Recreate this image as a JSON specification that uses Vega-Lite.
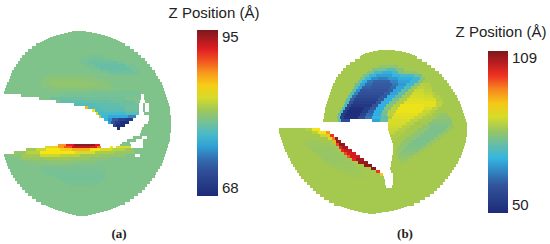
{"$schema":"https://vega.github.io/schema/vega-lite/v6.json","width":550,"height":244,"padding":0,"autosize":"none","background":"white","config":{"view":{"stroke":null}},
"datasets":{
"a":[
{"x":72,"x2":86,"y":31,"y2":32,"z":80.4},{"x":68,"x2":92,"y":32,"y2":33,"z":80.4},{"x":64,"x2":97,"y":33,"y2":34,"z":80.4},{"x":60,"x2":101,"y":34,"y2":35,"z":80.4},{"x":56,"x2":105,"y":35,"y2":36,"z":80.4},{"x":53,"x2":108,"y":36,"y2":37,"z":80.4},{"x":50,"x2":111,"y":37,"y2":38,"z":80.4},{"x":48,"x2":113,"y":38,"y2":39,"z":80.4},{"x":46,"x2":116,"y":39,"y2":40,"z":80.4},{"x":44,"x2":118,"y":40,"y2":41,"z":80.4},{"x":42,"x2":120,"y":41,"y2":42,"z":80.4},{"x":40,"x2":122,"y":42,"y2":43,"z":80.4},{"x":36,"x2":125,"y":43,"y2":46,"z":80.4},{"x":32,"x2":130,"y":46,"y2":49,"z":80.4},{"x":28,"x2":134,"y":49,"y2":52,"z":80.4},{"x":25,"x2":138,"y":52,"y2":55,"z":80.4},{"x":22,"x2":141,"y":55,"y2":58,"z":80.4},{"x":20,"x2":145,"y":58,"y2":61,"z":80.4},{"x":18,"x2":147,"y":61,"y2":64,"z":80.4},{"x":16,"x2":150,"y":64,"y2":67,"z":80.4},{"x":14,"x2":152,"y":67,"y2":70,"z":80.4},{"x":12,"x2":155,"y":70,"y2":73,"z":80.4},{"x":11,"x2":156,"y":73,"y2":76,"z":80.4},{"x":10,"x2":158,"y":76,"y2":79,"z":80.4},{"x":9,"x2":160,"y":79,"y2":82,"z":80.4},{"x":7,"x2":162,"y":82,"y2":85,"z":80.4},{"x":6,"x2":163,"y":85,"y2":88,"z":80.4},{"x":5,"x2":164,"y":88,"y2":91,"z":80.4},{"x":4,"x2":165,"y":91,"y2":94,"z":80.4},
{"x":21,"x2":141,"y":94,"y2":97,"z":80.4},{"x":144,"x2":166,"y":94,"y2":97,"z":80.4},{"x":39,"x2":141,"y":97,"y2":100,"z":80.4},{"x":144,"x2":167,"y":97,"y2":100,"z":80.4},{"x":56,"x2":140,"y":100,"y2":103,"z":80.4},{"x":145,"x2":168,"y":100,"y2":103,"z":80.4},{"x":74,"x2":139,"y":103,"y2":106,"z":80.4},{"x":143,"x2":145,"y":103,"y2":106,"z":80.4},{"x":149,"x2":169,"y":103,"y2":106,"z":80.4},{"x":85,"x2":139,"y":106,"y2":109,"z":80.4},{"x":143,"x2":145,"y":106,"y2":109,"z":80.4},{"x":149,"x2":170,"y":106,"y2":109,"z":80.4},{"x":92,"x2":139,"y":109,"y2":112,"z":80.4},{"x":143,"x2":145,"y":109,"y2":112,"z":80.4},{"x":149,"x2":170,"y":109,"y2":112,"z":80.4},{"x":96,"x2":139,"y":112,"y2":115,"z":80.4},{"x":144,"x2":170,"y":112,"y2":115,"z":80.4},{"x":99,"x2":136,"y":115,"y2":118,"z":80.4},{"x":149,"x2":171,"y":115,"y2":118,"z":80.4},{"x":104,"x2":133,"y":118,"y2":121,"z":80.4},{"x":149,"x2":171,"y":118,"y2":121,"z":80.4},{"x":108,"x2":129,"y":121,"y2":124,"z":80.4},{"x":148,"x2":171,"y":121,"y2":124,"z":80.4},{"x":113,"x2":125,"y":124,"y2":127,"z":80.4},{"x":144,"x2":171,"y":124,"y2":127,"z":80.4},{"x":117,"x2":120,"y":127,"y2":130,"z":80.4},{"x":142,"x2":171,"y":127,"y2":130,"z":80.4},{"x":141,"x2":171,"y":130,"y2":133,"z":80.4},{"x":140,"x2":170,"y":133,"y2":136,"z":80.4},{"x":133,"x2":142,"y":136,"y2":139,"z":80.4},{"x":147,"x2":170,"y":136,"y2":139,"z":80.4},{"x":127,"x2":136,"y":139,"y2":142,"z":80.4},{"x":143,"x2":170,"y":139,"y2":142,"z":80.4},{"x":122,"x2":130,"y":142,"y2":144,"z":80.4},{"x":143,"x2":169,"y":142,"y2":144,"z":80.4},{"x":58,"x2":100,"y":144,"y2":146,"z":80.4},{"x":120,"x2":131,"y":144,"y2":146,"z":80.4},{"x":143,"x2":168,"y":144,"y2":146,"z":80.4},{"x":45,"x2":101,"y":146,"y2":148,"z":80.4},{"x":110,"x2":113,"y":146,"y2":148,"z":80.4},{"x":116,"x2":131,"y":146,"y2":148,"z":80.4},{"x":143,"x2":168,"y":146,"y2":148,"z":80.4},{"x":26,"x2":167,"y":148,"y2":151,"z":80.4},{"x":14,"x2":166,"y":151,"y2":154,"z":80.4},{"x":4,"x2":135,"y":154,"y2":157,"z":80.4},{"x":140,"x2":165,"y":154,"y2":157,"z":80.4},{"x":5,"x2":164,"y":157,"y2":160,"z":80.4},{"x":6,"x2":163,"y":160,"y2":163,"z":80.4},{"x":7,"x2":162,"y":163,"y2":166,"z":80.4},{"x":8,"x2":160,"y":166,"y2":169,"z":80.4},{"x":10,"x2":158,"y":169,"y2":172,"z":80.4},{"x":11,"x2":156,"y":172,"y2":175,"z":80.4},{"x":13,"x2":155,"y":175,"y2":178,"z":80.4},{"x":15,"x2":152,"y":178,"y2":181,"z":80.4},{"x":17,"x2":150,"y":181,"y2":184,"z":80.4},{"x":20,"x2":147,"y":184,"y2":187,"z":80.4},{"x":22,"x2":145,"y":187,"y2":190,"z":80.4},{"x":25,"x2":142,"y":190,"y2":193,"z":80.4},{"x":28,"x2":138,"y":193,"y2":196,"z":80.4},{"x":32,"x2":134,"y":196,"y2":199,"z":80.4},{"x":36,"x2":130,"y":199,"y2":202,"z":80.4},{"x":41,"x2":125,"y":202,"y2":205,"z":80.4},{"x":46,"x2":120,"y":205,"y2":206,"z":80.4},{"x":48,"x2":118,"y":206,"y2":207,"z":80.4},{"x":50,"x2":116,"y":207,"y2":208,"z":80.4},{"x":53,"x2":113,"y":208,"y2":209,"z":80.4},{"x":55,"x2":111,"y":209,"y2":210,"z":80.4},{"x":58,"x2":108,"y":210,"y2":211,"z":80.4},{"x":62,"x2":104,"y":211,"y2":212,"z":80.4},{"x":65,"x2":100,"y":212,"y2":213,"z":80.4},{"x":68,"x2":96,"y":213,"y2":214,"z":80.4},{"x":72,"x2":92,"y":214,"y2":215,"z":80.4},{"x":76,"x2":88,"y":215,"y2":216,"z":80.4},
{"x":85,"x2":105,"y":55,"y2":58,"z":80.1},{"x":80,"x2":115,"y":58,"y2":61,"z":80.1},{"x":90,"x2":105,"y":58,"y2":61,"z":79.8},{"x":80,"x2":125,"y":61,"y2":64,"z":80},{"x":88,"x2":118,"y":61,"y2":64,"z":79.6},{"x":85,"x2":135,"y":64,"y2":67,"z":80},{"x":95,"x2":125,"y":64,"y2":67,"z":79.4},{"x":90,"x2":140,"y":67,"y2":70,"z":80},{"x":100,"x2":130,"y":67,"y2":70,"z":79.4},{"x":100,"x2":140,"y":70,"y2":73,"z":80},{"x":107,"x2":133,"y":70,"y2":73,"z":79.6},{"x":110,"x2":140,"y":73,"y2":76,"z":80.1},
{"x":50,"x2":85,"y":73,"y2":76,"z":80.7},{"x":45,"x2":95,"y":76,"y2":79,"z":80.9},{"x":42,"x2":105,"y":79,"y2":82,"z":80.9},{"x":50,"x2":85,"y":79,"y2":82,"z":81.2},{"x":40,"x2":110,"y":82,"y2":85,"z":80.9},{"x":50,"x2":95,"y":82,"y2":85,"z":81.3},{"x":42,"x2":112,"y":85,"y2":88,"z":80.9},{"x":55,"x2":100,"y":85,"y2":88,"z":81.2},{"x":48,"x2":115,"y":88,"y2":91,"z":80.7},
{"x":90,"x2":140,"y":91,"y2":94,"z":80},{"x":60,"x2":140,"y":94,"y2":97,"z":80},{"x":50,"x2":85,"y":97,"y2":100,"z":79.7},{"x":85,"x2":125,"y":97,"y2":100,"z":79.8},{"x":60,"x2":85,"y":100,"y2":103,"z":79.1},{"x":85,"x2":110,"y":100,"y2":103,"z":79.3},{"x":110,"x2":135,"y":100,"y2":103,"z":79.7},{"x":74,"x2":95,"y":103,"y2":106,"z":78.6},{"x":95,"x2":120,"y":103,"y2":106,"z":79},{"x":120,"x2":139,"y":103,"y2":106,"z":79.6},
{"x":85,"x2":88,"y":106,"y2":109,"z":87},{"x":88,"x2":100,"y":106,"y2":109,"z":78.6},{"x":100,"x2":125,"y":106,"y2":109,"z":79},{"x":125,"x2":139,"y":106,"y2":109,"z":79.8},{"x":92,"x2":95,"y":109,"y2":112,"z":85},{"x":95,"x2":105,"y":109,"y2":112,"z":78.5},{"x":105,"x2":125,"y":109,"y2":112,"z":78.8},{"x":125,"x2":139,"y":109,"y2":112,"z":79.5},{"x":96,"x2":98,"y":112,"y2":115,"z":84},{"x":98,"x2":108,"y":112,"y2":115,"z":78},{"x":108,"x2":125,"y":112,"y2":115,"z":78},{"x":125,"x2":139,"y":112,"y2":115,"z":78.8},{"x":99,"x2":101,"y":115,"y2":118,"z":83},{"x":101,"x2":108,"y":115,"y2":118,"z":77.5},{"x":108,"x2":118,"y":115,"y2":118,"z":76.5},{"x":118,"x2":128,"y":115,"y2":118,"z":76.5},{"x":128,"x2":136,"y":115,"y2":118,"z":75},
{"x":104,"x2":108,"y":118,"y2":121,"z":77},{"x":108,"x2":112,"y":118,"y2":121,"z":75.5},{"x":112,"x2":118,"y":118,"y2":121,"z":73},{"x":118,"x2":126,"y":118,"y2":121,"z":71},{"x":126,"x2":133,"y":118,"y2":121,"z":70},{"x":108,"x2":111,"y":121,"y2":124,"z":76},{"x":111,"x2":115,"y":121,"y2":124,"z":72.5},{"x":115,"x2":120,"y":121,"y2":124,"z":70},{"x":120,"x2":129,"y":121,"y2":124,"z":68.5},{"x":113,"x2":116,"y":124,"y2":127,"z":71},{"x":116,"x2":125,"y":124,"y2":127,"z":68.5},{"x":117,"x2":120,"y":127,"y2":130,"z":68.5},
{"x":58,"x2":66,"y":144,"y2":146,"z":88},{"x":66,"x2":74,"y":144,"y2":146,"z":91.5},{"x":74,"x2":95,"y":144,"y2":146,"z":94.3},{"x":95,"x2":100,"y":144,"y2":146,"z":92},{"x":45,"x2":52,"y":146,"y2":148,"z":84},{"x":52,"x2":58,"y":146,"y2":148,"z":86},{"x":58,"x2":64,"y":146,"y2":148,"z":88},{"x":64,"x2":72,"y":146,"y2":148,"z":90},{"x":72,"x2":90,"y":146,"y2":148,"z":93},{"x":90,"x2":97,"y":146,"y2":148,"z":92},{"x":97,"x2":101,"y":146,"y2":148,"z":89},{"x":110,"x2":113,"y":146,"y2":148,"z":85},{"x":116,"x2":131,"y":146,"y2":148,"z":84},
{"x":26,"x2":36,"y":148,"y2":151,"z":82},{"x":36,"x2":46,"y":148,"y2":151,"z":83.5},{"x":46,"x2":60,"y":148,"y2":151,"z":85},{"x":60,"x2":72,"y":148,"y2":151,"z":86},{"x":72,"x2":90,"y":148,"y2":151,"z":87},{"x":90,"x2":100,"y":148,"y2":151,"z":85},{"x":100,"x2":112,"y":148,"y2":151,"z":84},{"x":112,"x2":125,"y":148,"y2":151,"z":83},{"x":125,"x2":133,"y":148,"y2":151,"z":82},{"x":14,"x2":26,"y":151,"y2":154,"z":81.5},{"x":26,"x2":40,"y":151,"y2":154,"z":83},{"x":40,"x2":60,"y":151,"y2":154,"z":85},{"x":60,"x2":75,"y":151,"y2":154,"z":85},{"x":75,"x2":95,"y":151,"y2":154,"z":84},{"x":95,"x2":115,"y":151,"y2":154,"z":82.5},{"x":115,"x2":135,"y":151,"y2":154,"z":81.5},{"x":8,"x2":22,"y":154,"y2":157,"z":81},{"x":22,"x2":40,"y":154,"y2":157,"z":82.3},{"x":40,"x2":60,"y":154,"y2":157,"z":83.6},{"x":60,"x2":80,"y":154,"y2":157,"z":83},{"x":80,"x2":100,"y":154,"y2":157,"z":82},{"x":100,"x2":125,"y":154,"y2":157,"z":81.3},{"x":20,"x2":45,"y":157,"y2":160,"z":81.5},{"x":45,"x2":70,"y":157,"y2":160,"z":82},{"x":70,"x2":90,"y":157,"y2":160,"z":81.5},{"x":90,"x2":110,"y":157,"y2":160,"z":81},{"x":25,"x2":50,"y":160,"y2":163,"z":81},{"x":50,"x2":75,"y":160,"y2":163,"z":81.2},{"x":75,"x2":95,"y":160,"y2":163,"z":81},{"x":35,"x2":70,"y":163,"y2":166,"z":80.8},
{"x":40,"x2":100,"y":166,"y2":169,"z":80.2},{"x":40,"x2":105,"y":169,"y2":172,"z":80.1},{"x":45,"x2":105,"y":172,"y2":175,"z":80},{"x":55,"x2":105,"y":175,"y2":178,"z":79.9},{"x":60,"x2":105,"y":178,"y2":181,"z":80},{"x":65,"x2":100,"y":181,"y2":184,"z":80.1},{"x":70,"x2":95,"y":184,"y2":187,"z":80.2}
],
"b":[
{"x":378,"x2":395,"y":50,"y2":51,"z":81.3},{"x":373,"x2":402,"y":51,"y2":52,"z":81.3},{"x":369,"x2":406,"y":52,"y2":53,"z":81.3},{"x":365,"x2":410,"y":53,"y2":54,"z":81.3},{"x":363,"x2":412,"y":54,"y2":55,"z":81.3},{"x":361,"x2":415,"y":55,"y2":56,"z":81.3},{"x":360,"x2":417,"y":56,"y2":59,"z":81.3},{"x":355,"x2":422,"y":59,"y2":62,"z":81.3},{"x":350,"x2":427,"y":62,"y2":65,"z":81.3},{"x":346,"x2":431,"y":65,"y2":68,"z":81.3},{"x":343,"x2":435,"y":68,"y2":71,"z":81.3},{"x":341,"x2":439,"y":71,"y2":74,"z":81.3},{"x":338,"x2":442,"y":74,"y2":77,"z":81.3},{"x":336,"x2":444,"y":77,"y2":80,"z":81.3},{"x":335,"x2":447,"y":80,"y2":83,"z":81.3},{"x":333,"x2":449,"y":83,"y2":86,"z":81.3},{"x":332,"x2":451,"y":86,"y2":89,"z":81.3},{"x":331,"x2":453,"y":89,"y2":92,"z":81.3},{"x":330,"x2":455,"y":92,"y2":95,"z":81.3},{"x":329,"x2":457,"y":95,"y2":98,"z":81.3},{"x":328,"x2":458,"y":98,"y2":101,"z":81.3},{"x":327,"x2":460,"y":101,"y2":104,"z":81.3},{"x":326,"x2":461,"y":104,"y2":107,"z":81.3},{"x":325,"x2":462,"y":107,"y2":110,"z":81.3},{"x":325,"x2":463,"y":110,"y2":113,"z":81.3},{"x":324,"x2":464,"y":113,"y2":116,"z":81.3},{"x":324,"x2":465,"y":116,"y2":119,"z":81.3},{"x":323,"x2":350,"y":119,"y2":122,"z":81.3},{"x":372,"x2":466,"y":119,"y2":122,"z":81.3},{"x":388,"x2":467,"y":122,"y2":125,"z":81.3},{"x":388,"x2":467,"y":125,"y2":128,"z":81.3},{"x":279,"x2":320,"y":128,"y2":131,"z":81.3},{"x":388,"x2":467,"y":128,"y2":131,"z":81.3},{"x":279,"x2":330,"y":131,"y2":134,"z":81.3},{"x":389,"x2":467,"y":131,"y2":134,"z":81.3},{"x":280,"x2":334,"y":134,"y2":137,"z":81.3},{"x":390,"x2":467,"y":134,"y2":137,"z":81.3},{"x":281,"x2":338,"y":137,"y2":140,"z":81.3},{"x":391,"x2":466,"y":137,"y2":140,"z":81.3},{"x":282,"x2":341,"y":140,"y2":143,"z":81.3},{"x":392,"x2":466,"y":140,"y2":143,"z":81.3},{"x":283,"x2":345,"y":143,"y2":146,"z":81.3},{"x":393,"x2":465,"y":143,"y2":146,"z":81.3},{"x":284,"x2":348,"y":146,"y2":149,"z":81.3},{"x":393,"x2":464,"y":146,"y2":149,"z":81.3},{"x":285,"x2":352,"y":149,"y2":152,"z":81.3},{"x":393,"x2":463,"y":149,"y2":152,"z":81.3},{"x":287,"x2":356,"y":152,"y2":155,"z":81.3},{"x":393,"x2":462,"y":152,"y2":155,"z":81.3},{"x":288,"x2":360,"y":155,"y2":158,"z":81.3},{"x":392,"x2":461,"y":155,"y2":158,"z":81.3},{"x":290,"x2":364,"y":158,"y2":161,"z":81.3},{"x":392,"x2":459,"y":158,"y2":161,"z":81.3},{"x":291,"x2":368,"y":161,"y2":164,"z":81.3},{"x":391,"x2":458,"y":161,"y2":164,"z":81.3},{"x":293,"x2":372,"y":164,"y2":167,"z":81.3},{"x":391,"x2":456,"y":164,"y2":167,"z":81.3},{"x":295,"x2":376,"y":167,"y2":170,"z":81.3},{"x":390,"x2":454,"y":167,"y2":170,"z":81.3},{"x":297,"x2":380,"y":170,"y2":173,"z":81.3},{"x":391,"x2":452,"y":170,"y2":173,"z":81.3},{"x":299,"x2":383,"y":173,"y2":176,"z":81.3},{"x":393,"x2":450,"y":173,"y2":176,"z":81.3},{"x":301,"x2":384,"y":176,"y2":179,"z":81.3},{"x":393,"x2":448,"y":176,"y2":179,"z":81.3},{"x":304,"x2":385,"y":179,"y2":182,"z":81.3},{"x":393,"x2":445,"y":179,"y2":182,"z":81.3},{"x":307,"x2":385,"y":182,"y2":185,"z":81.3},{"x":393,"x2":443,"y":182,"y2":185,"z":81.3},{"x":310,"x2":386,"y":185,"y2":188,"z":81.3},{"x":392,"x2":440,"y":185,"y2":188,"z":81.3},{"x":313,"x2":437,"y":188,"y2":191,"z":81.3},{"x":316,"x2":434,"y":191,"y2":194,"z":81.3},{"x":320,"x2":430,"y":194,"y2":197,"z":81.3},{"x":324,"x2":425,"y":197,"y2":200,"z":81.3},{"x":329,"x2":420,"y":200,"y2":203,"z":81.3},{"x":334,"x2":414,"y":203,"y2":206,"z":81.3},{"x":341,"x2":407,"y":206,"y2":207,"z":81.3},{"x":344,"x2":404,"y":207,"y2":208,"z":81.3},{"x":347,"x2":401,"y":208,"y2":209,"z":81.3},{"x":350,"x2":398,"y":209,"y2":210,"z":81.3},{"x":354,"x2":394,"y":210,"y2":211,"z":81.3},{"x":358,"x2":389,"y":211,"y2":212,"z":81.3},{"x":362,"x2":382,"y":212,"y2":213,"z":81.3},{"x":368,"x2":376,"y":213,"y2":214,"z":81.3},
{"x":378,"x2":398,"y":65,"y2":68,"z":79},{"x":372,"x2":386,"y":68,"y2":71,"z":77},{"x":386,"x2":396,"y":68,"y2":71,"z":74},{"x":396,"x2":404,"y":68,"y2":71,"z":78},{"x":367,"x2":374,"y":71,"y2":74,"z":77},{"x":374,"x2":382,"y":71,"y2":74,"z":72},{"x":382,"x2":392,"y":71,"y2":74,"z":69},{"x":392,"x2":398,"y":71,"y2":74,"z":72},{"x":398,"x2":404,"y":71,"y2":74,"z":78},{"x":404,"x2":418,"y":71,"y2":74,"z":79},
{"x":363,"x2":369,"y":74,"y2":77,"z":76},{"x":369,"x2":376,"y":74,"y2":77,"z":70},{"x":376,"x2":392,"y":74,"y2":77,"z":67.5},{"x":392,"x2":400,"y":74,"y2":77,"z":70},{"x":400,"x2":414,"y":74,"y2":77,"z":72},{"x":414,"x2":422,"y":74,"y2":77,"z":76},
{"x":360,"x2":365,"y":77,"y2":80,"z":77},{"x":365,"x2":371,"y":77,"y2":80,"z":70},{"x":371,"x2":378,"y":77,"y2":80,"z":66},{"x":378,"x2":388,"y":77,"y2":80,"z":64.5},{"x":388,"x2":398,"y":77,"y2":80,"z":67},{"x":398,"x2":412,"y":77,"y2":80,"z":69},{"x":412,"x2":420,"y":77,"y2":80,"z":71},{"x":420,"x2":425,"y":77,"y2":80,"z":78},
{"x":358,"x2":362,"y":80,"y2":83,"z":76},{"x":362,"x2":367,"y":80,"y2":83,"z":69},{"x":367,"x2":373,"y":80,"y2":83,"z":64},{"x":373,"x2":390,"y":80,"y2":83,"z":62},{"x":390,"x2":398,"y":80,"y2":83,"z":65},{"x":398,"x2":410,"y":80,"y2":83,"z":68},{"x":410,"x2":418,"y":80,"y2":83,"z":71},{"x":418,"x2":423,"y":80,"y2":83,"z":78},
{"x":355,"x2":360,"y":83,"y2":86,"z":75},{"x":360,"x2":365,"y":83,"y2":86,"z":68},{"x":365,"x2":372,"y":83,"y2":86,"z":63},{"x":372,"x2":392,"y":83,"y2":86,"z":61.5},{"x":392,"x2":398,"y":83,"y2":86,"z":64},{"x":398,"x2":406,"y":83,"y2":86,"z":67},{"x":406,"x2":414,"y":83,"y2":86,"z":71},{"x":414,"x2":420,"y":83,"y2":86,"z":79},{"x":420,"x2":430,"y":83,"y2":86,"z":82.5},
{"x":354,"x2":358,"y":86,"y2":89,"z":75},{"x":358,"x2":362,"y":86,"y2":89,"z":68},{"x":362,"x2":370,"y":86,"y2":89,"z":62},{"x":370,"x2":390,"y":86,"y2":89,"z":61},{"x":390,"x2":396,"y":86,"y2":89,"z":63},{"x":396,"x2":404,"y":86,"y2":89,"z":68},{"x":404,"x2":411,"y":86,"y2":89,"z":73},{"x":411,"x2":417,"y":86,"y2":89,"z":80},{"x":417,"x2":426,"y":86,"y2":89,"z":83},{"x":426,"x2":432,"y":86,"y2":89,"z":82.3},
{"x":352,"x2":356,"y":89,"y2":92,"z":74},{"x":356,"x2":360,"y":89,"y2":92,"z":66},{"x":360,"x2":368,"y":89,"y2":92,"z":60},{"x":368,"x2":388,"y":89,"y2":92,"z":60},{"x":388,"x2":393,"y":89,"y2":92,"z":62},{"x":393,"x2":401,"y":89,"y2":92,"z":68},{"x":401,"x2":408,"y":89,"y2":92,"z":74},{"x":408,"x2":414,"y":89,"y2":92,"z":80.5},{"x":414,"x2":424,"y":89,"y2":92,"z":84},{"x":424,"x2":432,"y":89,"y2":92,"z":83},
{"x":350,"x2":354,"y":92,"y2":95,"z":74},{"x":354,"x2":358,"y":92,"y2":95,"z":65},{"x":358,"x2":384,"y":92,"y2":95,"z":59},{"x":384,"x2":390,"y":92,"y2":95,"z":62},{"x":390,"x2":398,"y":92,"y2":95,"z":68},{"x":398,"x2":405,"y":92,"y2":95,"z":75},{"x":405,"x2":412,"y":92,"y2":95,"z":81},{"x":412,"x2":424,"y":92,"y2":95,"z":84.5},{"x":424,"x2":432,"y":92,"y2":95,"z":83.5},{"x":432,"x2":436,"y":92,"y2":95,"z":82.5},
{"x":348,"x2":352,"y":95,"y2":98,"z":74},{"x":352,"x2":356,"y":95,"y2":98,"z":63},{"x":356,"x2":380,"y":95,"y2":98,"z":58},{"x":380,"x2":387,"y":95,"y2":98,"z":61},{"x":387,"x2":395,"y":95,"y2":98,"z":69},{"x":395,"x2":402,"y":95,"y2":98,"z":75},{"x":402,"x2":410,"y":95,"y2":98,"z":81.5},{"x":410,"x2":424,"y":95,"y2":98,"z":85},{"x":424,"x2":433,"y":95,"y2":98,"z":84.5},{"x":433,"x2":440,"y":95,"y2":98,"z":82.5},
{"x":346,"x2":350,"y":98,"y2":101,"z":74},{"x":350,"x2":354,"y":98,"y2":101,"z":62},{"x":354,"x2":378,"y":98,"y2":101,"z":56.5},{"x":378,"x2":384,"y":98,"y2":101,"z":61},{"x":384,"x2":392,"y":98,"y2":101,"z":69},{"x":392,"x2":399,"y":98,"y2":101,"z":76},{"x":399,"x2":407,"y":98,"y2":101,"z":82},{"x":407,"x2":424,"y":98,"y2":101,"z":85.5},{"x":424,"x2":436,"y":98,"y2":101,"z":85},{"x":436,"x2":442,"y":98,"y2":101,"z":82.5},
{"x":345,"x2":349,"y":101,"y2":104,"z":73},{"x":349,"x2":353,"y":101,"y2":104,"z":60},{"x":353,"x2":376,"y":101,"y2":104,"z":55},{"x":376,"x2":381,"y":101,"y2":104,"z":61},{"x":381,"x2":389,"y":101,"y2":104,"z":69},{"x":389,"x2":396,"y":101,"y2":104,"z":77},{"x":396,"x2":404,"y":101,"y2":104,"z":82},{"x":404,"x2":424,"y":101,"y2":104,"z":86},{"x":424,"x2":436,"y":101,"y2":104,"z":86},{"x":436,"x2":443,"y":101,"y2":104,"z":83},
{"x":344,"x2":347,"y":104,"y2":107,"z":73},{"x":347,"x2":351,"y":104,"y2":107,"z":58},{"x":351,"x2":372,"y":104,"y2":107,"z":53.5},{"x":372,"x2":378,"y":104,"y2":107,"z":60},{"x":378,"x2":386,"y":104,"y2":107,"z":69},{"x":386,"x2":393,"y":104,"y2":107,"z":78},{"x":393,"x2":400,"y":104,"y2":107,"z":82.5},{"x":400,"x2":424,"y":104,"y2":107,"z":86.5},{"x":424,"x2":436,"y":104,"y2":107,"z":86},{"x":436,"x2":442,"y":104,"y2":107,"z":83},
{"x":342,"x2":345,"y":107,"y2":110,"z":72},{"x":345,"x2":349,"y":107,"y2":110,"z":56},{"x":349,"x2":364,"y":107,"y2":110,"z":51.5},{"x":364,"x2":370,"y":107,"y2":110,"z":55},{"x":370,"x2":376,"y":107,"y2":110,"z":61},{"x":376,"x2":384,"y":107,"y2":110,"z":69},{"x":384,"x2":391,"y":107,"y2":110,"z":78},{"x":391,"x2":398,"y":107,"y2":110,"z":83},{"x":398,"x2":424,"y":107,"y2":110,"z":86.5},{"x":424,"x2":432,"y":107,"y2":110,"z":85},{"x":432,"x2":438,"y":107,"y2":110,"z":83},
{"x":340,"x2":343,"y":110,"y2":113,"z":73},{"x":343,"x2":347,"y":110,"y2":113,"z":55},{"x":347,"x2":362,"y":110,"y2":113,"z":51},{"x":362,"x2":368,"y":110,"y2":113,"z":55},{"x":368,"x2":374,"y":110,"y2":113,"z":62},{"x":374,"x2":382,"y":110,"y2":113,"z":69},{"x":382,"x2":388,"y":110,"y2":113,"z":76},{"x":388,"x2":396,"y":110,"y2":113,"z":83},{"x":396,"x2":422,"y":110,"y2":113,"z":86.5},{"x":422,"x2":430,"y":110,"y2":113,"z":84},{"x":430,"x2":435,"y":110,"y2":113,"z":82.5},
{"x":338,"x2":341,"y":113,"y2":116,"z":74},{"x":341,"x2":345,"y":113,"y2":116,"z":55},{"x":345,"x2":360,"y":113,"y2":116,"z":51},{"x":360,"x2":366,"y":113,"y2":116,"z":56},{"x":366,"x2":373,"y":113,"y2":116,"z":63},{"x":373,"x2":381,"y":113,"y2":116,"z":69},{"x":381,"x2":387,"y":113,"y2":116,"z":76},{"x":387,"x2":394,"y":113,"y2":116,"z":83},{"x":394,"x2":418,"y":113,"y2":116,"z":86},{"x":418,"x2":426,"y":113,"y2":116,"z":84},{"x":426,"x2":432,"y":113,"y2":116,"z":82.5},{"x":438,"x2":448,"y":113,"y2":116,"z":79.5},
{"x":337,"x2":340,"y":116,"y2":119,"z":76},{"x":340,"x2":344,"y":116,"y2":119,"z":56},{"x":344,"x2":358,"y":116,"y2":119,"z":51.5},{"x":358,"x2":365,"y":116,"y2":119,"z":58},{"x":365,"x2":372,"y":116,"y2":119,"z":64},{"x":372,"x2":381,"y":116,"y2":119,"z":70},{"x":381,"x2":388,"y":116,"y2":119,"z":75},{"x":388,"x2":392,"y":116,"y2":119,"z":82},{"x":392,"x2":414,"y":116,"y2":119,"z":85.5},{"x":414,"x2":422,"y":116,"y2":119,"z":83.5},{"x":422,"x2":428,"y":116,"y2":119,"z":82},{"x":436,"x2":450,"y":116,"y2":119,"z":79},
{"x":338,"x2":341,"y":119,"y2":122,"z":74},{"x":341,"x2":350,"y":119,"y2":122,"z":58},{"x":372,"x2":380,"y":119,"y2":122,"z":68},{"x":380,"x2":388,"y":119,"y2":122,"z":75},{"x":388,"x2":410,"y":119,"y2":122,"z":85},{"x":410,"x2":418,"y":119,"y2":122,"z":83},{"x":418,"x2":426,"y":119,"y2":122,"z":81.5},{"x":432,"x2":452,"y":119,"y2":122,"z":78.5},
{"x":388,"x2":406,"y":122,"y2":125,"z":85},{"x":406,"x2":414,"y":122,"y2":125,"z":83},{"x":414,"x2":422,"y":122,"y2":125,"z":81},{"x":428,"x2":452,"y":122,"y2":125,"z":78},{"x":388,"x2":402,"y":125,"y2":128,"z":84.5},{"x":402,"x2":410,"y":125,"y2":128,"z":82.5},{"x":422,"x2":430,"y":125,"y2":128,"z":79},{"x":430,"x2":448,"y":125,"y2":128,"z":77},{"x":448,"x2":454,"y":125,"y2":128,"z":79.5},{"x":388,"x2":398,"y":128,"y2":131,"z":84},{"x":398,"x2":406,"y":128,"y2":131,"z":82.5},{"x":418,"x2":428,"y":128,"y2":131,"z":79},{"x":428,"x2":446,"y":128,"y2":131,"z":77},{"x":446,"x2":452,"y":128,"y2":131,"z":79.5},{"x":389,"x2":395,"y":131,"y2":134,"z":83.5},{"x":395,"x2":404,"y":131,"y2":134,"z":82},{"x":414,"x2":424,"y":131,"y2":134,"z":79},{"x":424,"x2":442,"y":131,"y2":134,"z":77},{"x":442,"x2":448,"y":131,"y2":134,"z":79.5},{"x":390,"x2":400,"y":134,"y2":137,"z":82},{"x":410,"x2":420,"y":134,"y2":137,"z":79},{"x":420,"x2":438,"y":134,"y2":137,"z":77},{"x":438,"x2":444,"y":134,"y2":137,"z":79.5},{"x":391,"x2":398,"y":137,"y2":140,"z":81.8},{"x":405,"x2":416,"y":137,"y2":140,"z":79},{"x":416,"x2":434,"y":137,"y2":140,"z":77},{"x":434,"x2":440,"y":137,"y2":140,"z":79.5},{"x":402,"x2":412,"y":140,"y2":143,"z":79},{"x":412,"x2":430,"y":140,"y2":143,"z":77},{"x":430,"x2":436,"y":140,"y2":143,"z":79.5},{"x":400,"x2":408,"y":143,"y2":146,"z":79},{"x":408,"x2":426,"y":143,"y2":146,"z":77},{"x":426,"x2":432,"y":143,"y2":146,"z":79.5},{"x":398,"x2":405,"y":146,"y2":149,"z":79},{"x":405,"x2":422,"y":146,"y2":149,"z":77.5},{"x":422,"x2":428,"y":146,"y2":149,"z":79.5},{"x":396,"x2":402,"y":149,"y2":152,"z":79.5},{"x":402,"x2":419,"y":149,"y2":152,"z":78},{"x":419,"x2":424,"y":149,"y2":152,"z":80},{"x":396,"x2":400,"y":152,"y2":155,"z":80},{"x":400,"x2":415,"y":152,"y2":155,"z":78.5},{"x":415,"x2":420,"y":152,"y2":155,"z":80},{"x":398,"x2":412,"y":155,"y2":158,"z":79},{"x":398,"x2":408,"y":158,"y2":161,"z":79.7},{"x":400,"x2":406,"y":161,"y2":164,"z":80.3},
{"x":305,"x2":320,"y":140,"y2":143,"z":80.5},{"x":305,"x2":330,"y":143,"y2":146,"z":80.2},{"x":308,"x2":335,"y":146,"y2":149,"z":80},{"x":312,"x2":338,"y":149,"y2":152,"z":79.9},{"x":316,"x2":340,"y":152,"y2":155,"z":79.8},{"x":320,"x2":345,"y":155,"y2":158,"z":79.8},{"x":322,"x2":348,"y":158,"y2":161,"z":79.9},{"x":326,"x2":352,"y":161,"y2":164,"z":80},{"x":330,"x2":355,"y":164,"y2":167,"z":80.2},{"x":335,"x2":358,"y":167,"y2":170,"z":80.4},{"x":340,"x2":362,"y":170,"y2":173,"z":80.6},{"x":345,"x2":365,"y":173,"y2":176,"z":80.8},{"x":350,"x2":368,"y":176,"y2":179,"z":81},
{"x":305,"x2":312,"y":128,"y2":131,"z":82.5},{"x":312,"x2":320,"y":128,"y2":131,"z":87},{"x":312,"x2":318,"y":131,"y2":134,"z":83},{"x":318,"x2":326,"y":131,"y2":134,"z":87.5},{"x":326,"x2":330,"y":131,"y2":134,"z":94},{"x":320,"x2":326,"y":134,"y2":137,"z":84},{"x":326,"x2":330,"y":134,"y2":137,"z":90},{"x":330,"x2":334,"y":134,"y2":137,"z":100},{"x":328,"x2":332,"y":137,"y2":140,"z":85},{"x":332,"x2":335,"y":137,"y2":140,"z":96},{"x":335,"x2":338,"y":137,"y2":140,"z":106},{"x":333,"x2":336,"y":140,"y2":143,"z":92},{"x":336,"x2":341,"y":140,"y2":143,"z":107},{"x":336,"x2":339,"y":143,"y2":146,"z":99},{"x":339,"x2":345,"y":143,"y2":146,"z":108},{"x":339,"x2":342,"y":146,"y2":149,"z":101},{"x":342,"x2":348,"y":146,"y2":149,"z":106},{"x":341,"x2":344,"y":149,"y2":152,"z":101},{"x":344,"x2":352,"y":149,"y2":152,"z":104},{"x":344,"x2":347,"y":152,"y2":155,"z":99},{"x":347,"x2":356,"y":152,"y2":155,"z":103},{"x":347,"x2":350,"y":155,"y2":158,"z":98},{"x":350,"x2":360,"y":155,"y2":158,"z":103},{"x":352,"x2":356,"y":158,"y2":161,"z":101},{"x":356,"x2":364,"y":158,"y2":161,"z":106},{"x":358,"x2":368,"y":161,"y2":164,"z":107},{"x":364,"x2":372,"y":164,"y2":167,"z":108},{"x":371,"x2":376,"y":167,"y2":170,"z":108},{"x":376,"x2":380,"y":170,"y2":173,"z":100},{"x":380,"x2":383,"y":173,"y2":176,"z":90}
],
"titles":[{"x":214,"y":13,"label":"Z Position (Å)"},{"x":501,"y":32,"label":"Z Position (Å)"}],
"captions":[{"x":119,"y":234,"label":"(a)"},{"x":405,"y":234,"label":"(b)"}]
},
"layer":[
{"data":{"name":"a"},"mark":{"type":"rect"},"encoding":{
"x":{"field":"x","type":"quantitative","axis":null,"scale":{"domain":[0,550],"nice":false,"zero":false}},"x2":{"field":"x2"},
"y":{"field":"y","type":"quantitative","axis":null,"scale":{"domain":[244,0],"nice":false,"zero":false}},"y2":{"field":"y2"},
"color":{"field":"z","type":"quantitative","scale":{"interpolate":"rgb","domain":[68,73.1,76.9,80.4,82.3,85,88.25,91.5,95],"range":["#1D2A78","#34589F","#2FB5E6","#7FC28A","#A5C94F","#F5E613","#F7941E","#ED1C24","#7A1A1C"]},
"legend":{"title":null,"orient":"none","legendX":197,"legendY":30,"gradientLength":166,"gradientThickness":21,"values":[68,95],"labelFont":"Liberation Sans","labelFontSize":15,"labelColor":"#222222","labelOffset":4,"tickCount":30}}}},
{"data":{"name":"b"},"mark":{"type":"rect"},"encoding":{
"x":{"field":"x","type":"quantitative","axis":null,"scale":{"domain":[0,550],"nice":false,"zero":false}},"x2":{"field":"x2"},
"y":{"field":"y","type":"quantitative","axis":null,"scale":{"domain":[244,0],"nice":false,"zero":false}},"y2":{"field":"y2"},
"color":{"field":"z","type":"quantitative","scale":{"interpolate":"rgb","domain":[50,61.2,69.5,77,81.3,87.2,94.3,101.3,109],"range":["#1D2A78","#34589F","#2FB5E6","#7CC08C","#A5C94F","#F5E613","#F7941E","#ED1C24","#7A1A1C"]},
"legend":{"title":null,"orient":"none","legendX":488,"legendY":51,"gradientLength":162,"gradientThickness":20,"values":[50,109],"labelFont":"Liberation Sans","labelFontSize":15,"labelColor":"#222222","labelOffset":4,"tickCount":30}}}},
{"data":{"name":"titles"},"mark":{"type":"text","font":"Liberation Sans","fontSize":15,"color":"#222222","align":"center","baseline":"middle"},"encoding":{"x":{"field":"x","type":"quantitative","axis":null},"y":{"field":"y","type":"quantitative","axis":null},"text":{"field":"label"}}},
{"data":{"name":"captions"},"mark":{"type":"text","font":"Liberation Serif","fontSize":13,"fontWeight":"bold","color":"#222222","align":"center","baseline":"middle"},"encoding":{"x":{"field":"x","type":"quantitative","axis":null},"y":{"field":"y","type":"quantitative","axis":null},"text":{"field":"label"}}}
],
"resolve":{"scale":{"color":"independent"},"legend":{"color":"independent"}}
}
